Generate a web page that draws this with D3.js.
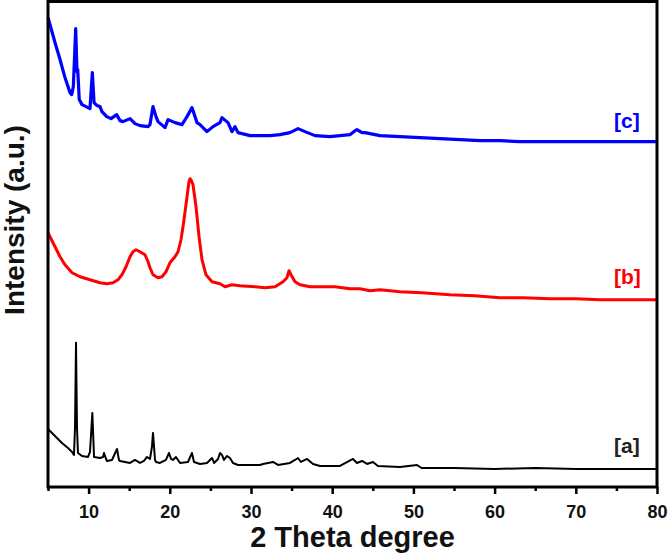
<!DOCTYPE html>
<html>
<head>
<meta charset="utf-8">
<script src="https://cdn.jsdelivr.net/npm/d3@7"></script>
<style>
  body { margin: 0; background: #fff; }
  svg { display: block; font-family: Arial, 'Liberation Sans', sans-serif; }
  .tick-label { font-size: 18px; font-weight: bold; fill: #111; }
  .axis-title { font-size: 29px; font-weight: bold; fill: #111; }
  .curve-label { font-size: 21px; font-weight: bold; }
</style>
</head>
<body>
<svg></svg>
<script>
// XRD patterns, [2 theta, intensity a.u.]

let seriesA = [
  [5.00, 58], [5.86, 51], [6.72, 44], [7.46, 39], [7.96, 35], [8.20, 32], [8.33, 60],
  [8.45, 144], [8.57, 60], [8.69, 34], [9.19, 31], [9.93, 30], [10.17, 35], [10.46, 74],
  [10.67, 30], [11.40, 29], [11.78, 30], [11.90, 34], [12.15, 28], [12.27, 26], [12.88, 27],
  [13.50, 38], [13.74, 27], [13.87, 26], [15.10, 24], [15.71, 27], [16.33, 24], [16.82, 26],
  [17.19, 30], [17.56, 28], [17.80, 40], [17.93, 54], [18.18, 27], [18.30, 25], [18.79, 24],
  [19.53, 27], [19.90, 34], [20.15, 28], [20.39, 27], [20.76, 30], [21.26, 24], [22.24, 25],
  [22.73, 34], [22.98, 25], [23.72, 23], [24.58, 24], [24.95, 27], [25.20, 29], [25.45, 24],
  [25.94, 28], [26.18, 34], [26.43, 32], [26.67, 27], [27.05, 31], [27.41, 29], [27.78, 24],
  [28.40, 22], [29.88, 22], [31.11, 22], [31.48, 23], [32.71, 25], [33.33, 22], [34.80, 24],
  [35.42, 27], [35.79, 29], [36.15, 25], [36.90, 28], [37.64, 23], [38.50, 21], [40.96, 21],
  [42.56, 28], [43.05, 24], [43.67, 26], [44.29, 23], [45.02, 25], [45.64, 21], [48.35, 20],
  [50.44, 22], [51.00, 19], [55.00, 19], [60.00, 18], [65.00, 19], [70.00, 18], [75.00, 18],
  [80.00, 18]
]

let seriesB = [
  [5.00, 254], [5.86, 240], [6.48, 230], [7.09, 222], [7.96, 214], [8.94, 210], [10.17, 207],
  [11.40, 204], [12.27, 203], [13.00, 204], [13.62, 207], [14.11, 212], [14.61, 220],
  [15.10, 230], [15.47, 235], [15.84, 237], [16.33, 235], [16.95, 232], [17.32, 225],
  [17.56, 219], [17.93, 212], [18.55, 209], [19.04, 210], [19.53, 215], [20.02, 224],
  [20.64, 230], [21.01, 235], [21.38, 247], [21.75, 267], [22.12, 290], [22.36, 305],
  [22.49, 308], [22.61, 307], [22.86, 302], [23.23, 280], [23.60, 250], [23.97, 227],
  [24.46, 212], [25.20, 205], [26.18, 203], [26.80, 200], [27.66, 202], [28.65, 201],
  [30.49, 200], [31.72, 199], [32.96, 200], [33.94, 205], [34.43, 209], [34.68, 216],
  [34.93, 212], [35.42, 205], [36.03, 202], [37.27, 200], [38.50, 200], [40.35, 200],
  [42.19, 198], [43.42, 198], [44.66, 196], [45.89, 197], [48.35, 195], [51.00, 194],
  [54.51, 192], [57.50, 191], [60.67, 189], [63.50, 189], [66.82, 188], [70.00, 188],
  [72.98, 187], [76.00, 187], [80.00, 187]
]

let seriesC = [
  [5.00, 469], [5.86, 444], [6.48, 427], [7.09, 409], [7.71, 394], [7.92, 392], [8.12, 400],
  [8.41, 458], [8.57, 415], [8.66, 417], [8.85, 387], [9.19, 382], [9.68, 380], [10.17, 378],
  [10.46, 414], [10.67, 384], [11.03, 381], [11.40, 380], [11.65, 375], [12.23, 370],
  [12.76, 368], [13.46, 372], [13.87, 366], [14.24, 365], [15.10, 368], [15.71, 363],
  [16.33, 361], [17.32, 360], [17.56, 362], [17.93, 380], [18.30, 370], [18.55, 365],
  [19.41, 359], [19.78, 367], [20.64, 364], [21.50, 362], [22.12, 370], [22.73, 379],
  [23.35, 364], [23.72, 362], [24.58, 355], [25.32, 360], [26.18, 364], [26.43, 369],
  [27.17, 364], [27.66, 355], [28.03, 360], [28.40, 354], [29.88, 351], [31.11, 351],
  [32.34, 351], [33.57, 352], [34.80, 354], [35.79, 358], [36.65, 355], [37.88, 351],
  [39.73, 350], [40.96, 351], [42.19, 352], [42.81, 356], [43.05, 357], [43.67, 354],
  [44.04, 354], [45.89, 351], [48.35, 350], [50.81, 349], [53.28, 348], [55.74, 347],
  [58.20, 346], [60.67, 346], [63.13, 345], [70.00, 345], [75.00, 345], [80.00, 345]
]

let curves = [
  { name: '[a]', values: seriesA, color: '#000000', width: 2,   labelY: 34 },
  { name: '[b]', values: seriesB, color: '#ff0000', width: 3,   labelY: 203 },
  { name: '[c]', values: seriesC, color: '#0000ff', width: 3.2, labelY: 359 }
]

let majorTicks = [10, 20, 30, 40, 50, 60, 70, 80]
let minorTicks = [5, 15, 25, 35, 45, 55, 65, 75]

let xScale
let yScale

// dimensions of the svg canvas
let width = 669
let height = 554
let plotLeft = 48
let plotRight = 657
let plotTop = 1.5
let plotBottom = 487

let svg = d3.select('svg')

let drawCanvas = () => {
  svg.attr('width', width)
  svg.attr('height', height)
}

let generateScales = () => {
  xScale = d3.scaleLinear()
             .domain([5, 80])
             .range([plotLeft, plotRight])
  yScale = d3.scaleLinear()
             .domain([0, 485])
             .range([plotBottom, plotTop])
}

let drawLines = () => {
  let line = d3.line()
               .x((d) => xScale(d[0]))
               .y((d) => yScale(d[1]))

  svg.selectAll('.curve')
     .data(curves)
     .enter()
     .append('path')
     .attr('class', 'curve')
     .attr('d', (d) => line(d.values))
     .attr('fill', 'none')
     .attr('stroke', (d) => d.color)
     .attr('stroke-width', (d) => d.width)
     .attr('stroke-linejoin', 'round')

  svg.selectAll('.curve-label')
     .data(curves)
     .enter()
     .append('text')
     .attr('class', 'curve-label')
     .attr('x', xScale(74.7))
     .attr('y', (d) => yScale(d.labelY))
     .attr('fill', (d) => d.color === '#000000' ? '#222' : d.color)
     .text((d) => d.name)
}

let generateAxes = () => {
  // bottom axis with major and minor ticks
  let xAxis = d3.axisBottom(xScale)
                .tickValues(majorTicks)
                .tickSize(7)
                .tickFormat(d3.format('d'))
  let gx = svg.append('g')
              .attr('transform', `translate(0,${plotBottom})`)
              .call(xAxis)
  gx.select('.domain').remove()
  gx.selectAll('line').attr('stroke', '#000').attr('stroke-width', 2.5)
  gx.selectAll('text')
    .attr('class', 'tick-label')
    .attr('dy', null)
    .attr('y', 31)

  let xMinor = d3.axisBottom(xScale)
                 .tickValues(minorTicks)
                 .tickSize(4)
                 .tickFormat('')
  let gm = svg.append('g')
              .attr('transform', `translate(0,${plotBottom})`)
              .call(xMinor)
  gm.select('.domain').remove()
  gm.selectAll('line').attr('stroke', '#000').attr('stroke-width', 2.5)

  // frame
  svg.append('rect')
     .attr('x', plotLeft)
     .attr('y', plotTop)
     .attr('width', plotRight - plotLeft)
     .attr('height', plotBottom - plotTop)
     .attr('fill', 'none')
     .attr('stroke', '#000')
     .attr('stroke-width', 3)
}

let descriptions = () => {
  svg.append('text')
     .attr('class', 'axis-title')
     .attr('x', (plotLeft + plotRight) / 2)
     .attr('y', 547)
     .attr('text-anchor', 'middle')
     .text('2 Theta degree')

  svg.append('text')
     .attr('class', 'axis-title')
     .attr('transform', 'rotate(-90)')
     .attr('x', -220)
     .attr('y', 24)
     .attr('text-anchor', 'middle')
     .style('font-size', '28px')
     .text('Intensity (a.u.)')
}

drawCanvas()
generateScales()
drawLines()
generateAxes()
descriptions()
</script>
</body>
</html>
